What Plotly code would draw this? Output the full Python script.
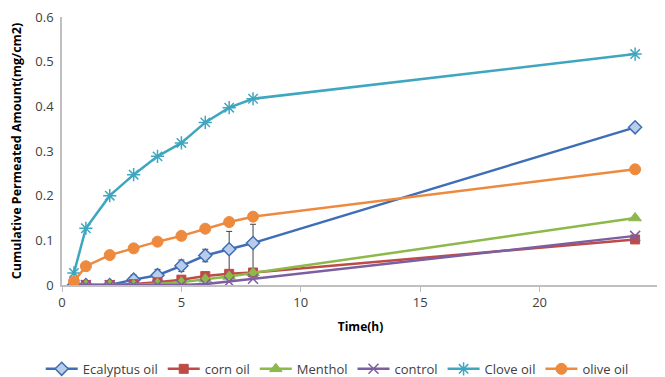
import plotly.graph_objects as go

time_h = [0.5, 1, 2, 3, 4, 5, 6, 7, 8, 24]

eucalyptus = [0.0, 0.0, 0.0, 0.012, 0.022, 0.043, 0.066, 0.080, 0.094, 0.353]
eucalyptus_err_plus = [0, 0, 0, 0.010, 0.013, 0.013, 0.014, 0.040, 0.042, 0]
eucalyptus_err_minus = [0, 0, 0, 0.010, 0.013, 0.013, 0.014, 0.052, 0.062, 0]
corn = [0.0, 0.0, 0.0, 0.002, 0.006, 0.012, 0.020, 0.025, 0.028, 0.102]
menthol = [0.0, 0.0, 0.0, 0.0, 0.003, 0.006, 0.013, 0.019, 0.027, 0.150]
control = [0.0, 0.0, 0.0, 0.0, 0.0, 0.0, 0.002, 0.008, 0.014, 0.110]
clove = [0.027, 0.127, 0.200, 0.247, 0.288, 0.318, 0.364, 0.397, 0.417, 0.517]
olive = [0.008, 0.042, 0.067, 0.082, 0.097, 0.110, 0.126, 0.141, 0.153, 0.259]

series = [
    ("Ecalyptus oil", eucalyptus, "#3E6EB5", dict(symbol="diamond", size=10, color="#B9CDEB", line=dict(color="#3E6EB5", width=1.5))),
    ("corn oil", corn, "#BE4B48", dict(symbol="square", size=9, color="#BE4B48", line=dict(color="#BE4B48", width=1))),
    ("Menthol", menthol, "#8DB84A", dict(symbol="triangle-up", size=11, color="#8DB84A", line=dict(color="#8DB84A", width=1))),
    ("control", control, "#7B5FA0", dict(symbol="x-thin-open", size=10, color="#7B5FA0", line=dict(color="#7B5FA0", width=1.5))),
    ("Clove oil", clove, "#3FA6C0", dict(symbol="asterisk-open", size=11, color="#3FA6C0", line=dict(color="#3FA6C0", width=1.5))),
    ("olive oil", olive, "#ED8A3E", dict(symbol="circle", size=11, color="#ED8A3E", line=dict(color="#ED8A3E", width=1))),
]

fig = go.Figure()
for name, vals, color, marker in series:
    kw = {}
    if name == "Ecalyptus oil":
        kw["error_y"] = dict(type="data", symmetric=False, array=eucalyptus_err_plus,
                             arrayminus=eucalyptus_err_minus, visible=True,
                             color="#404040", thickness=1, width=3)
    fig.add_trace(go.Scatter(
        x=time_h, y=vals, name=name, mode="lines+markers",
        line=dict(color=color, width=2.5), marker=marker, **kw))

# page body has an 8px default margin, so the figure is 657x369
fig.update_layout(
    width=657, height=369,
    margin=dict(l=54, r=6, t=9, b=92, autoexpand=False),
    paper_bgcolor="white", plot_bgcolor="white",
    font=dict(family="Open Sans, Liberation Sans, sans-serif", color="#404040", size=13),
    showlegend=True,
    legend=dict(orientation="h", yref="container",
                x=0.461, xanchor="center", y=0.022, yanchor="middle",
                font=dict(size=13, color="#404040"), itemwidth=32, traceorder="normal"),
)
fig.update_xaxes(
    range=[0, 25], dtick=5, showgrid=False, zeroline=False, automargin=False,
    showline=True, linecolor="#BFBFBF", linewidth=1.5,
    ticks="outside", ticklen=5, tickcolor="#BFBFBF",
    tickfont=dict(size=13, color="#404040"),
    title=dict(text="<b>Time(h)</b>", font=dict(size=12, color="#000000"), standoff=12),
)
fig.update_yaxes(
    range=[0, 0.6], dtick=0.1, showgrid=False, zeroline=False, automargin=False,
    showline=True, linecolor="#BFBFBF", linewidth=1.5, ticklabeloverflow="allow",
    ticks="", ticklabelstandoff=4, tickfont=dict(size=13, color="#404040"),
    title=dict(text="<b>Cumulative Permeated Amount(mg/cm2)</b>", font=dict(size=12.5, color="#000000"), standoff=15),
)

fig.write_html("out.html")
